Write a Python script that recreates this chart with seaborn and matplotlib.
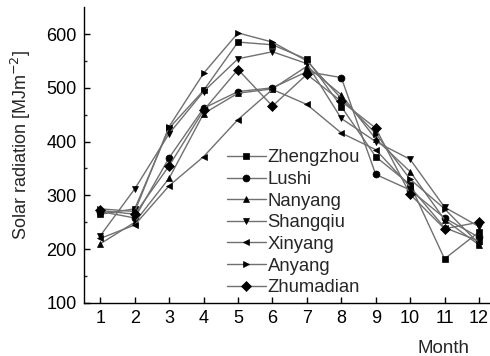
import pandas as pd
import matplotlib.pyplot as plt
import seaborn as sns

# monthly solar radiation
months = list(range(1, 13))
stations = ['Zhengzhou', 'Lushi', 'Nanyang', 'Shangqiu', 'Xinyang', 'Anyang', 'Zhumadian']
zhengzhou = [265, 275, 425, 495, 585, 580, 553, 465, 372, 320, 182, 232]
lushi = [270, 258, 370, 462, 493, 500, 530, 519, 339, 310, 258, 222]
nanyang = [210, 250, 332, 452, 490, 498, 540, 487, 405, 344, 255, 208]
shangqiu = [225, 312, 415, 493, 554, 567, 545, 443, 400, 367, 278, 242]
xinyang = [220, 245, 318, 372, 441, 497, 469, 416, 385, 316, 240, 215]
anyang = [275, 270, 428, 527, 602, 585, 550, 480, 415, 330, 275, 210]
zhumadian = [272, 265, 355, 458, 534, 466, 525, 475, 425, 302, 238, 250]
series = [zhengzhou, lushi, nanyang, shangqiu, xinyang, anyang, zhumadian]
marker_list = ['s', 'o', '^', 'v', '<', '>', 'D']

df = pd.DataFrame({
    'Month': months * len(stations),
    'Value': sum(series, []),
    'Station': [s for s in stations for _ in months],
})

sns.set_style('ticks')
plt.rcParams['font.family'] = ['Liberation Sans', 'DejaVu Sans']

fig = plt.figure(figsize=(4.9, 3.56), dpi=100)
ax = fig.add_axes([0.171, 0.149, 0.829, 0.831])

sns.lineplot(data=df, x='Month', y='Value', hue='Station', style='Station',
             hue_order=stations, style_order=stations,
             palette=['#707070'] * len(stations), markers=dict(zip(stations, marker_list)),
             dashes=False, markersize=5, linewidth=1, legend=False, ax=ax)

for ln in ax.lines:
    ln.set_markerfacecolor('black')
    ln.set_markeredgecolor('black')
    ln.set_markeredgewidth(0.5)

ax.legend(ax.lines, stations, loc='upper left', bbox_to_anchor=(0.33, 0.55),
          frameon=False, fontsize=13.3, handlelength=2.1, handletextpad=0.1,
          labelspacing=0.25, borderpad=0)

ax.set_xlim(0.52, 12.32)
ax.set_ylim(100, 650)
ax.set_xticks(months)
ax.set_yticks([100, 200, 300, 400, 500, 600])
ax.set_yticks(range(150, 650, 100), minor=True)
ax.tick_params(direction='in', labelsize=13, length=4, width=1, colors='black', pad=5)
ax.tick_params(which='minor', direction='in', length=2.5, width=1)
sns.despine(ax=ax)
for sp in ['left', 'bottom']:
    ax.spines[sp].set_color('black')
    ax.spines[sp].set_linewidth(1)

ax.set_ylabel('Solar radiation [MJm$^{-2}$]', fontsize=13)
ax.yaxis.set_label_coords(-0.126, 0.534)
ax.set_xlabel('')
fig.text(0.959, 0.0084, 'Month', fontsize=13.5, ha='right', va='baseline')

fig.savefig('out.png', dpi=100)
